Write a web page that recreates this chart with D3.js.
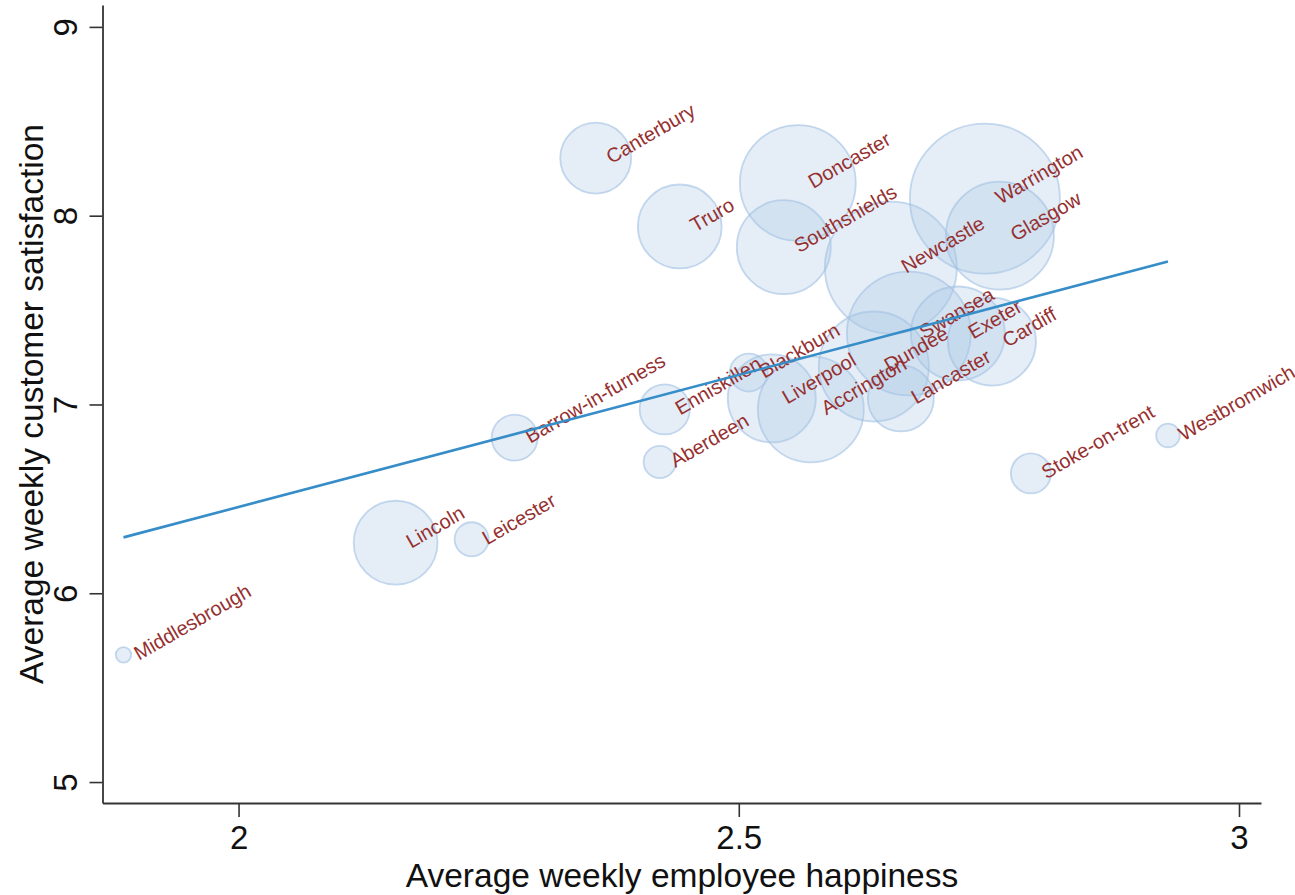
<!DOCTYPE html>
<html>
<head>
<meta charset="utf-8">
<script src="https://cdn.jsdelivr.net/npm/d3@7"></script>
<style>
  body { margin: 0; background: #fff; }
  svg { display: block; font-family: "Liberation Sans", Arial, sans-serif; }
</style>
</head>
<body>
<div id="chart"></div>
<script>
// store-level averages, bubble size = weight
const cities = ["Middlesbrough", "Lincoln", "Leicester", "Barrow-in-furness", "Aberdeen",
  "Enniskillen", "Canterbury", "Truro", "Blackburn", "Liverpool", "Accrington",
  "Doncaster", "Southshields", "Newcastle", "Dundee", "Swansea", "Lancaster",
  "Exeter", "Warrington", "Glasgow", "Cardiff", "Stoke-on-trent", "Westbromwich"];
const happiness = [1.885, 2.157, 2.233, 2.276, 2.421, 2.426, 2.357, 2.441, 2.510, 2.533, 2.572,
  2.559, 2.545, 2.652, 2.635, 2.670, 2.662, 2.719, 2.746, 2.761, 2.753, 2.792, 2.929];
const satisfaction = [5.674, 6.268, 6.286, 6.824, 6.695, 6.974, 8.305, 7.943, 7.169, 7.032, 6.974,
  8.173, 7.833, 7.725, 7.201, 7.376, 7.032, 7.376, 8.090, 7.894, 7.333, 6.635, 6.836];
const weights = [6, 176, 29, 53, 26, 63, 126, 176, 36, 194, 281,
  336, 221, 436, 303, 384, 109, 221, 563, 292, 194, 40, 14];

// linear fit, evaluated at min and max happiness
const fitX = [1.885, 2.929];
const fitY = [6.296, 7.757];

const xTicks = [2, 2.5, 3];
const yTicks = [5, 6, 7, 8, 9];

const W = 1295, H = 895;
const plotLeft = 102.5, plotRight = 1261, plotTop = 5, plotBottom = 803;

const x = d3.scaleLinear().domain([1.864, 3.022]).range([plotLeft, plotRight]);
const y = d3.scaleLinear().domain([4.889, 9.116]).range([plotBottom, plotTop]);
const r = d3.scaleSqrt().domain([0, 563]).range([0, 75]);

const data = cities.map((c, i) => ({city: c, x: happiness[i], y: satisfaction[i], w: weights[i]}));

const svg = d3.select("#chart").append("svg")
    .attr("width", W)
    .attr("height", H);

// bubbles
svg.append("g").selectAll("circle")
    .data(data)
    .join("circle")
    .attr("cx", d => x(d.x))
    .attr("cy", d => y(d.y))
    .attr("r", d => r(d.w))
    .attr("fill", "rgb(168,198,230)")
    .attr("fill-opacity", 0.3)
    .attr("stroke", "rgb(160,192,226)")
    .attr("stroke-opacity", 0.6)
    .attr("stroke-width", 1.8);

// labels
svg.append("g").selectAll("text")
    .data(data)
    .join("text")
    .attr("transform", d => `translate(${x(d.x) + 12},${y(d.y)}) rotate(-30)`)
    .attr("dy", "0.35em")
    .attr("font-size", 20)
    .attr("fill", "rgb(150,48,48)")
    .text(d => d.city);

// fitted line
svg.append("path")
    .datum(fitX.map((v, i) => [v, fitY[i]]))
    .attr("fill", "none")
    .attr("stroke", "rgb(54,141,200)")
    .attr("stroke-width", 2.6)
    .attr("d", d3.line().x(d => x(d[0])).y(d => y(d[1])));

// axes
const xAxis = svg.append("g")
    .attr("transform", `translate(0,${plotBottom})`)
    .call(d3.axisBottom(x).tickValues(xTicks).tickFormat(d3.format("")).tickSize(14).tickSizeOuter(0).tickPadding(9));
const yAxis = svg.append("g")
    .attr("transform", `translate(${plotLeft},0)`)
    .call(d3.axisLeft(y).tickValues(yTicks).tickFormat(d3.format("")).tickSize(13).tickSizeOuter(0));

[xAxis, yAxis].forEach(g => {
  g.select(".domain").attr("stroke", "#333").attr("stroke-width", 1.8);
  g.selectAll(".tick line").attr("stroke", "#333").attr("stroke-width", 1.6);
  g.selectAll("text").attr("fill", "#111").attr("font-size", 33).attr("font-family", "Liberation Sans, Arial, sans-serif");
});

yAxis.selectAll(".tick text")
    .attr("transform", "rotate(-90)")
    .attr("x", 0)
    .attr("y", -26)
    .attr("dy", 0)
    .attr("text-anchor", "middle");

// titles
svg.append("text")
    .attr("x", 682)
    .attr("y", 887)
    .attr("text-anchor", "middle")
    .attr("font-size", 33.5)
    .attr("fill", "#111")
    .text("Average weekly employee happiness");

svg.append("text")
    .attr("transform", "translate(43,404) rotate(-90)")
    .attr("text-anchor", "middle")
    .attr("font-size", 33.5)
    .attr("fill", "#111")
    .text("Average weekly customer satisfaction");
</script>
</body>
</html>
